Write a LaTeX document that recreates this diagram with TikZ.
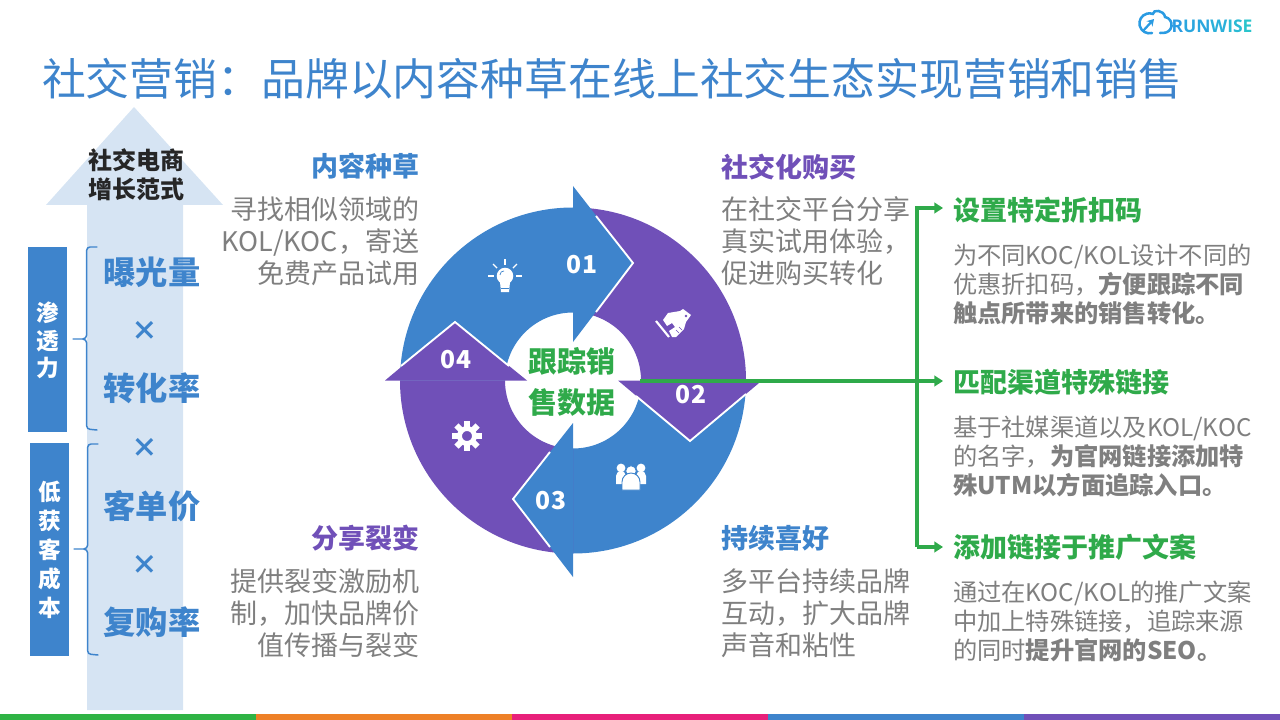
\documentclass[tikz,border=0pt]{standalone}
\usepackage{fontspec}
\setmainfont{Noto Sans CJK SC}
\newfontfamily\logofont{Open Sans}
\usetikzlibrary{arrows.meta}
\definecolor{tblue}{HTML}{3E84CC}
\definecolor{tpurple}{HTML}{7050B8}
\definecolor{tgreen}{HTML}{2FAA4A}
\definecolor{tgray}{HTML}{7F7F7F}
\definecolor{pale}{HTML}{D6E4F3}
\definecolor{barorange}{HTML}{EE8027}
\definecolor{barpink}{HTML}{E8207A}
\definecolor{bargreen}{HTML}{2FB344}
\definecolor{logoA}{HTML}{2A9BE2}
\definecolor{logoB}{HTML}{2AA6DE}
\definecolor{logoC}{HTML}{2AB0DA}
\definecolor{logoD}{HTML}{2ABAD4}
\definecolor{logoE}{HTML}{2AC4CC}
\newcommand{\fs}[2]{\fontsize{#1}{#2}\selectfont}
\newcommand{\qcomma}{^^^^ff0c}
\newcommand{\qcolon}{^^^^ff1a}
\tikzset{
  x=0.75pt,y=-0.75pt,
  every node/.style={inner sep=0pt,outer sep=0pt},
  titletext/.style={anchor=west,text=tblue,font=\fs{32.9}{38}},
  headblue/.style={text=tblue,font=\fs{20.25}{24}\bfseries},
  headpurple/.style={text=tpurple,font=\fs{20.25}{24}\bfseries},
  headgreen/.style={anchor=west,text=tgreen,font=\fs{20.25}{24}\bfseries},
  bodyR/.style={anchor=east,align=right,text=tgray,font=\fs{20.25}{24}},
  bodyL/.style={anchor=west,align=left,text=tgray,font=\fs{20.25}{24}},
  sidetext/.style={anchor=west,align=left,text=tgray,font=\fs{18.2}{21.75}},
  factor/.style={text=tblue,font=\fs{24.2}{28}\bfseries},
  timesmark/.style={text=tblue,font=\fs{20}{24}\bfseries},
  sidebox/.style={fill=tblue,text=white,align=center},
  num/.style={text=white,font=\fs{18.5}{22}\bfseries},
  brace/.style={draw=tblue,line width=1.1pt,line cap=round},
  white edge/.style={draw=white,line width=1.4pt,line join=miter},
  tree/.style={draw=tgreen,line width=2.6pt},
  treearrow/.style={tree,-{Triangle[length=6.5pt,width=8pt]}},
}
\begin{document}
\begin{tikzpicture}
\useasboundingbox (0,0) rectangle (1280,720);
% bottom bar
\fill[bargreen] (0,714) rectangle (256,720);
\fill[barorange] (256,714) rectangle (512,720);
\fill[barpink] (512,714) rectangle (768,720);
\fill[tblue] (768,714) rectangle (1024,720);
\fill[tpurple] (1024,714) rectangle (1280,720);
% logo
\draw[logoA,line width=1.9pt,line cap=round] (1152,33) arc[start angle=285,end angle=70,radius=7.5pt] .. controls (1153,9) and (1164,10) .. (1165,17) arc[start angle=80,end angle=-90,radius=6pt] -- (1160,33);
\draw[logoA,line width=1.7pt,-{Stealth[length=5pt,width=6pt]}] (1143,31) -- (1154,19);
\node[anchor=west,font=\logofont\fs{13.1}{16}\bfseries] (logo) at (1171.5,26)
 {\textcolor{logoA}{R}\textcolor{logoB}{U}\textcolor{logoB}{N}\textcolor{logoC}{W}\textcolor{logoD}{I}\textcolor{logoD}{S}\textcolor{logoE}{E}};
% title
\node[titletext] (title) at (42,79) {社交营销\qcolon{}品牌以内容种草在线上社交生态实现营销和销售};
% left arrow
\fill[pale] (134,107) -- (223,205) -- (183,205) -- (183,710) -- (87,710) -- (87,205) -- (46,205) -- cycle;
\node[font=\fs{18}{21.75}\bfseries,text=black!85,align=center] (paradigm) at (136,175) {社交电商\\增长范式};
\node[sidebox,minimum width=29.25pt,minimum height=138.75pt] (box1) at (47.5,339.5) {};
\node[text=white,font=\fs{17}{20.8}\bfseries,align=center] (box1t) at (48,340.5) {渗\\透\\力};
\node[sidebox,minimum width=29.25pt,minimum height=159.75pt] (box2) at (49.5,549.5) {};
\node[text=white,font=\fs{17}{21.8}\bfseries,align=center] (box2t) at (49.5,550) {低\\获\\客\\成\\本};
\draw[brace] (97,247) -- (90,247) arc[start angle=90,end angle=180,radius=2.5pt] -- (86.7,335) arc[start angle=0,end angle=-90,radius=3pt] -- (73,339) (82.7,339) arc[start angle=90,end angle=0,radius=3pt] -- (86.7,426) arc[start angle=180,end angle=270,radius=2.5pt] -- (97,430);
\draw[brace] (98,444) -- (91,444) arc[start angle=90,end angle=180,radius=2.5pt] -- (87.7,545) arc[start angle=0,end angle=-90,radius=3pt] -- (74,549) (83.7,549) arc[start angle=90,end angle=0,radius=3pt] -- (87.7,651) arc[start angle=180,end angle=270,radius=2.5pt] -- (98,655);
\node[factor] (f1) at (152,272) {曝光量};
\node[timesmark] (x1) at (145,331) {×};
\node[factor] (f2) at (152,388) {转化率};
\node[timesmark] (x2) at (145,448) {×};
\node[factor] (f3) at (152,506) {客单价};
\node[timesmark] (x3) at (145,565) {×};
\node[factor] (f4) at (152,622) {复购率};
% ring bodies
\fill[tblue] (573,207.5) arc[start angle=90,end angle=180,radius=129.75pt] -- (505,380.5) arc[start angle=180,end angle=90,radius=51pt] -- cycle;
\fill[tpurple] (746,380.5) arc[start angle=0,end angle=90,radius=129.75pt] -- (573,312.5) arc[start angle=90,end angle=0,radius=51pt] -- cycle;
\fill[tblue] (573,553.5) arc[start angle=270,end angle=360,radius=129.75pt] -- (641,380.5) arc[start angle=360,end angle=270,radius=51pt] -- cycle;
\fill[tpurple] (400,380.5) arc[start angle=180,end angle=270,radius=129.75pt] -- (573,448.5) arc[start angle=270,end angle=180,radius=51pt] -- cycle;
% arrow heads
\fill[tblue] (573,186) -- (633,263) -- (573,342) -- cycle;
\draw[white edge] (596,216) -- (633,263) -- (596,312);
\fill[tpurple] (618,380.5) -- (690,441) -- (762,380.5) -- cycle;
\draw[white edge] (636,396) -- (690,441) -- (746,394);
\fill[tblue] (573,423) -- (513,499) -- (573,577) -- cycle;
\draw[white edge] (550,452) -- (513,499) -- (550,547);
\fill[tpurple] (385,380.5) -- (455,322) -- (527,380.5) -- cycle;
\draw[white edge] (401,366) -- (455,322) -- (509,366);
% bulb icon
\begin{scope}[shift={(505,276)}]
 \fill[white] (0,0) circle (6.2pt);
 \fill[white] (-5,6) -- (5,6) -- (4,16) -- (-4,16) -- cycle;
 \draw[tblue,line width=0.5pt] (-5,-1) .. controls (-5,-4) and (-3,-5) .. (-1,-5);
 \foreach \a in {0,45,90,135,180} {\draw[white,line width=0.9pt] (\a:8.4pt) -- (\a:12.6pt);}
 \draw[tblue,line width=0.5pt] (-4,12) -- (4,12);
\end{scope}
% handshake icon
\fill[white] (663,320) -- (668,313) -- (680,311) -- (683,309) -- (691,315) -- (686,322) -- (684,329) -- (676,337) -- (672,337) -- (669,331) -- (675,327) -- (672,323) -- (667,326) -- cycle;
\fill[tpurple] (686,316) circle (1.1pt);
\draw[tpurple,line width=0.5pt] (676,330) -- (679,333) (679,327) -- (682,330);
\draw[white,line width=1.6pt] (656,321) -- (669,337);
% gear icon
\begin{scope}[shift={(467,436)}]
 \foreach \a in {0,45,...,315} {\fill[white,rotate=\a] (-3,-15) rectangle (3,-7);}
 \draw[white,line width=3.6pt] (0,0) circle (5.6pt);
\end{scope}
% people icon
\begin{scope}[shift={(631,478)}]
 \fill[white] (-10,-10) circle (3.3pt);
 \fill[white] (10,-10) circle (3.3pt);
 \fill[white] (-15,6) -- (-15,-2) arc[start angle=180,end angle=0,radius=3.7pt] -- (-5,6) -- cycle;
 \fill[white] (15,6) -- (15,-2) arc[start angle=0,end angle=180,radius=3.7pt] -- (5,6) -- cycle;
 \draw[tblue,line width=0.7pt,fill=white] (0,-7) circle (4pt);
 \draw[tblue,line width=0.7pt,fill=white] (-9,12) -- (-9,4) arc[start angle=180,end angle=0,radius=6.75pt] -- (9,12) -- cycle;
\end{scope}
% ring labels
\node[num] (n1) at (582,265) {01};
\node[num] (n2) at (691,395) {02};
\node[num] (n3) at (551,501) {03};
\node[num] (n4) at (456,360) {04};
\node[text=tgreen,font=\fs{21.75}{30.75}\bfseries,align=center] (hub) at (572,382) {跟踪销\\售数据};
% quadrant text
\node[headblue,anchor=east] (q1h) at (419,166) {内容种草};
\node[bodyR] (q1b) at (419,241) {寻找相似领域的\\KOL/KOC\qcomma{}寄送\\免费产品试用};
\node[headpurple,anchor=west] (q2h) at (721,167) {社交化购买};
\node[bodyL] (q2b) at (721,241) {在社交平台分享\\真实试用体验\qcomma\\促进购买转化};
\node[headpurple,anchor=east] (q4h) at (419,538) {分享裂变};
\node[bodyR] (q4b) at (419,613) {提供裂变激励机\\制\qcomma{}加快品牌价\\值传播与裂变};
\node[headblue,anchor=west] (q3h) at (721,538) {持续喜好};
\node[bodyL] (q3b) at (721,613) {多平台持续品牌\\互动\qcomma{}扩大品牌\\声音和粘性};
% right side
\node[headgreen] (r1h) at (953,210) {设置特定折扣码};
\node[sidetext] (r1b) at (953,285) {为不同KOC/KOL设计不同的\\优惠折扣码\qcomma{}\textbf{方便跟踪不同}\\\textbf{触点所带来的销售转化。}};
\node[headgreen] (r2h) at (953,382) {匹配渠道特殊链接};
\node[sidetext] (r2b) at (953,456) {基于社媒渠道以及KOL/KOC\\的名字\qcomma{}\textbf{为官网链接添加特}\\\textbf{殊UTM以方面追踪入口。}};
\node[headgreen] (r3h) at (953,547) {添加链接于推广文案};
\node[sidetext] (r3b) at (953,621) {通过在KOC/KOL的推广文案\\中加上特殊链接\qcomma{}追踪来源\\的同时\textbf{提升官网的SEO。}};
% connectors
\coordinate (src) at (640,381);
\coordinate (jtop) at (917,208);
\coordinate (jmid) at (917,381);
\coordinate (jbot) at (917,547);
\coordinate (t1) at (943,208);
\coordinate (t2) at (943,381);
\coordinate (t3) at (943,547);
\draw[tree] (jbot) -- (917,206.5);
\draw[tree] (src) -- (jmid);
\draw[treearrow] (jtop) -- (t1);
\draw[treearrow] (jmid) -- (t2);
\draw[treearrow] (jbot) -- (t3);
\end{tikzpicture}
\end{document}
